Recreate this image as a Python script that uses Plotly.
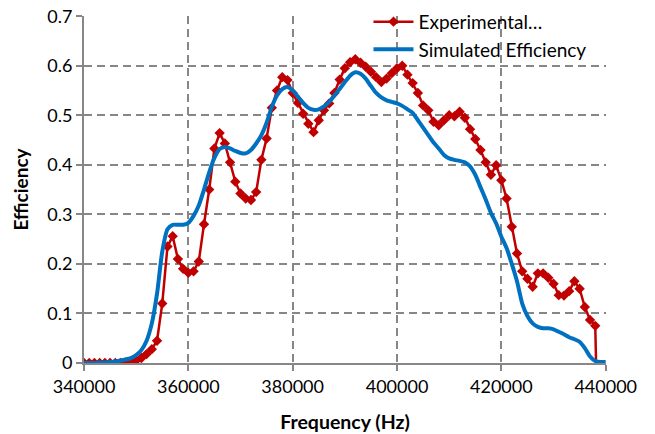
import plotly.graph_objects as go

# Measured efficiency (1 kHz sweep), frequency in Hz
exp_freq = [340000 + 1000 * k for k in range(99)] + [438200]
exp_eff = [
    0.0, 0.0, 0.0, 0.0, 0.0, 0.0, 0.0, 0.0, 0.001, 0.003,
    0.005, 0.01, 0.018, 0.028, 0.045, 0.12, 0.235, 0.256, 0.21, 0.19,
    0.182, 0.185, 0.205, 0.28, 0.35, 0.433, 0.464, 0.443, 0.405, 0.366,
    0.342, 0.332, 0.329, 0.345, 0.41, 0.453, 0.515, 0.55, 0.577, 0.571,
    0.545, 0.525, 0.503, 0.483, 0.466, 0.49, 0.51, 0.524, 0.545, 0.572,
    0.595, 0.607, 0.613, 0.606, 0.598, 0.588, 0.577, 0.567, 0.574, 0.585,
    0.595, 0.6, 0.582, 0.565, 0.545, 0.52, 0.51, 0.487, 0.48, 0.49,
    0.5, 0.498, 0.507, 0.495, 0.472, 0.452, 0.43, 0.405, 0.38, 0.399,
    0.369, 0.332, 0.275, 0.221, 0.185, 0.17, 0.154, 0.181, 0.181, 0.172,
    0.16, 0.137, 0.136, 0.145, 0.165, 0.15, 0.113, 0.087, 0.075, -0.02,
]

# Simulated efficiency, frequency in Hz
sim_freq = [340000 + 1000 * k for k in range(101)]
sim_eff = [
    0.0, 0.0, 0.0, 0.001, 0.001, 0.002, 0.003, 0.005, 0.007, 0.01,
    0.016, 0.026, 0.045, 0.08, 0.14, 0.225, 0.27, 0.279, 0.279, 0.279,
    0.283, 0.297, 0.318, 0.35, 0.385, 0.414, 0.432, 0.436, 0.433, 0.428,
    0.424, 0.423, 0.43, 0.443, 0.46, 0.485, 0.517, 0.54, 0.553, 0.557,
    0.55, 0.538, 0.525, 0.515, 0.511, 0.512, 0.518, 0.527, 0.54, 0.553,
    0.567, 0.58, 0.587, 0.584, 0.574, 0.559, 0.545, 0.536, 0.53, 0.527,
    0.524, 0.519, 0.512, 0.505, 0.49, 0.475, 0.46, 0.445, 0.433, 0.42,
    0.413, 0.41, 0.408, 0.405, 0.397, 0.38, 0.355, 0.33, 0.303, 0.282,
    0.255, 0.232, 0.2, 0.165, 0.12, 0.095, 0.08, 0.073, 0.07, 0.07,
    0.068, 0.063, 0.058, 0.052, 0.048, 0.043, 0.03, 0.013, 0.004, 0.002,
    0.002,
]

x_ticks = [340000, 360000, 380000, 400000, 420000, 440000]
y_ticks = [0, 0.1, 0.2, 0.3, 0.4, 0.5, 0.6, 0.7]
y_tick_text = ["0", "0.1", "0.2", "0.3", "0.4", "0.5", "0.6", "0.7"]

FONT = "Lato"
GREY = "#878787"

fig = go.Figure()
fig.add_trace(go.Scatter(
    x=exp_freq, y=exp_eff, mode="lines+markers",
    name="Experimental…",
    line=dict(color="#C00000", width=2.5),
    marker=dict(symbol="diamond", size=8, color="#C00000"),
))
fig.add_trace(go.Scatter(
    x=sim_freq, y=sim_eff, mode="lines",
    name="Simulated Efficiency",
    line=dict(color="#0070C0", width=4, shape="spline", smoothing=0.6),
))

fig.update_layout(
    width=655, height=434,
    margin=dict(l=84, r=49, t=16, b=71, autoexpand=False),
    paper_bgcolor="white", plot_bgcolor="white",
    font=dict(family=FONT, size=18, color="#000000"),
    legend=dict(
        x=0.545, y=1.038, xanchor="left", yanchor="top",
        bgcolor="rgba(0,0,0,0)", font=dict(size=19, family=FONT),
        itemwidth=40, tracegroupgap=0,
    ),
    showlegend=True,
)
fig.update_xaxes(
    range=[340000, 440060],
    tickvals=x_ticks, ticktext=[str(v) for v in x_ticks],
    showgrid=True, gridcolor=GREY, griddash="8px,5px", gridwidth=1.5,
    showline=True, linecolor=GREY, linewidth=2,
    ticks="outside", ticklen=6, tickcolor=GREY, tickwidth=1.5,
    zeroline=False, automargin=False,
    title=dict(text="<b>Frequency (Hz)</b>", font=dict(size=19.5, family=FONT), standoff=20),
)
fig.update_yaxes(
    range=[0, 0.7004],
    tickvals=y_ticks, ticktext=y_tick_text,
    showgrid=True, gridcolor=GREY, griddash="8px,5px", gridwidth=1.5,
    showline=True, linecolor=GREY, linewidth=2,
    ticks="outside", ticklen=6, tickcolor=GREY, tickwidth=1.5,
    zeroline=False, automargin=False,
    title=dict(text="<b>Efficiency</b>", font=dict(size=19, family=FONT), standoff=14),
)

fig.write_html("out.html")
